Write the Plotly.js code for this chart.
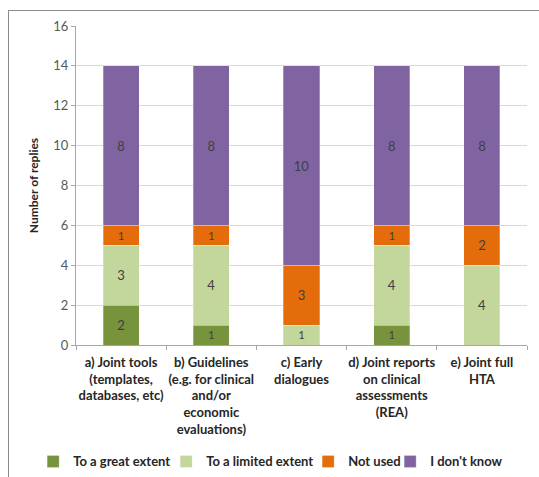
<!DOCTYPE html>
<html>
<head>
<meta charset="utf-8">
<script src="https://cdn.plot.ly/plotly-3.0.1.min.js"></script>
<style>
html,body{margin:0;padding:0;background:#fff;}
#wrap{position:relative;width:539px;height:477px;overflow:hidden;}
#chart{position:absolute;left:0;top:0;width:539px;height:477px;}
#frame{position:absolute;left:8px;top:10px;width:600px;height:600px;border-left:1px solid #8c8c8c;border-top:1px solid #8c8c8c;pointer-events:none;}
</style>
</head>
<body>
<div id="wrap"><div id="chart"></div><div id="frame"></div></div>
<script>
var categories = [
  "a) Joint tools<br>(templates,<br>databases, etc)",
  "b) Guidelines<br>(e.g. for clinical<br>and/or<br>economic<br>evaluations)",
  "c) Early<br>dialogues",
  "d) Joint reports<br>on clinical<br>assessments<br>(REA)",
  "e) Joint full<br>HTA"
];
var seriesNames = ["To a great extent", "To a limited extent", "Not used", "I don't know"];
var greatExtent   = [2, 1, 0, 1, 0];
var limitedExtent = [3, 4, 1, 4, 4];
var notUsed       = [1, 1, 3, 1, 2];
var dontKnow      = [8, 8, 10, 8, 8];
var colors = ["#77933C", "#C3D69B", "#E46C0A", "#8064A2"];
var legendWidths = [88, 97, 37, 75];
var yTicks = [0, 2, 4, 6, 8, 10, 12, 14, 16];

var font = "Lato, 'Open Sans', sans-serif";
var allSeries = [greatExtent, limitedExtent, notUsed, dontKnow];
var traces = allSeries.map(function(vals, i) {
  return {
    type: "bar",
    name: seriesNames[i],
    x: categories,
    y: vals,
    text: vals.map(function(v){ return v > 0 ? String(v) : ""; }),
    textposition: "inside",
    insidetextanchor: "middle",
    textangle: 0,
    textfont: {family: font, size: 13, color: "#404040"},
    marker: {color: colors[i], line: {color: "rgba(255,255,255,0.35)", width: 0.8}},
    legendwidth: legendWidths[i],
    hoverinfo: "none"
  };
});

var layout = {
  width: 539, height: 477,
  barmode: "stack",
  bargap: 0.6,
  paper_bgcolor: "#fff",
  plot_bgcolor: "#fff",
  margin: {l: 76, r: 12, t: 26, b: 132, autoexpand: false},
  font: {family: font, size: 13, color: "#404040"},
  showlegend: true,
  legend: {
    orientation: "h", x: -0.095, xanchor: "left", y: -0.365, yanchor: "middle",
    font: {family: font, size: 13, color: "#262626", weight: "bold"},
    itemwidth: 30, traceorder: "normal", tracegroupgap: 0
  },
  xaxis: {
    type: "category",
    tickson: "boundaries",
    ticks: "outside", ticklen: 4, tickcolor: "#a6a6a6",
    showline: true, linecolor: "#a6a6a6", linewidth: 1,
    showgrid: false,
    ticklabelstandoff: 5,
    tickfont: {family: font, size: 13, color: "#262626", weight: "bold"},
    tickangle: 0
  },
  yaxis: {
    range: [0, 16],
    tickvals: yTicks,
    ticks: "outside", ticklen: 4, tickcolor: "#a6a6a6",
    showline: true, linecolor: "#a6a6a6", linewidth: 1,
    showgrid: true, gridcolor: "#d9d9d9", gridwidth: 1,
    zeroline: false,
    tickfont: {family: font, size: 13, color: "#595959"},
    title: {text: "Number of replies", font: {family: font, size: 12, color: "#262626", weight: "bold"}, standoff: 12}
  }
};

Plotly.newPlot("chart", traces, layout, {staticPlot: true, displayModeBar: false});
</script>
</body>
</html>
